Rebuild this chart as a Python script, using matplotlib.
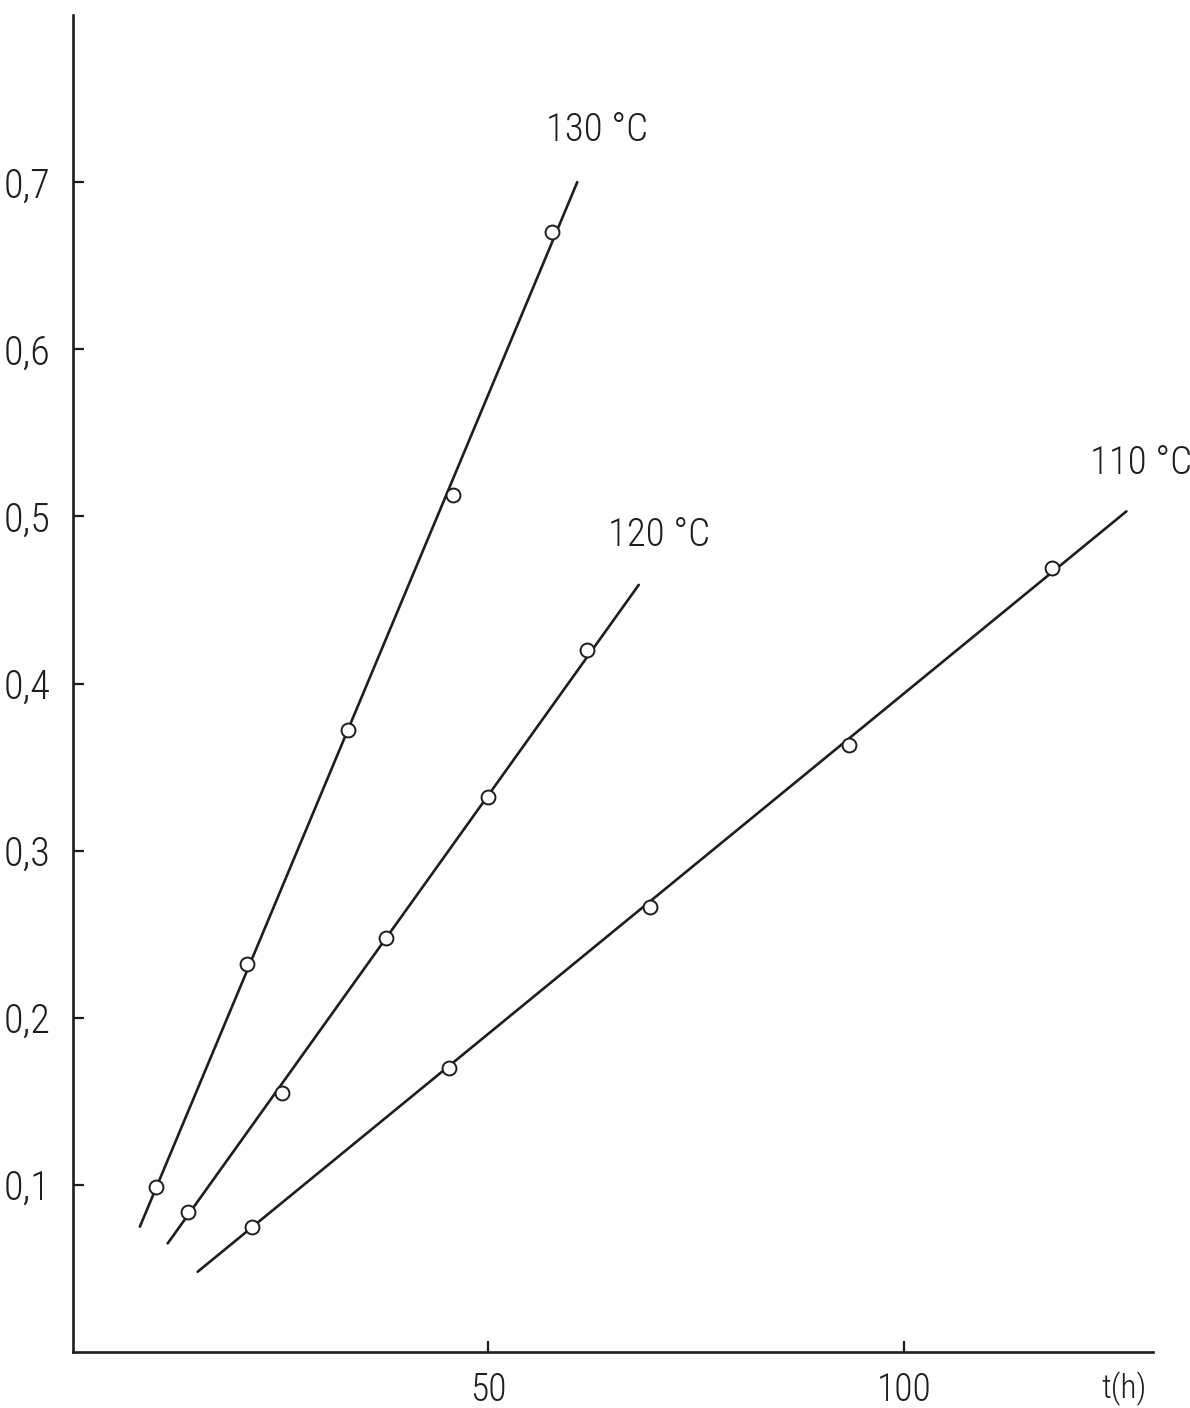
import matplotlib
matplotlib.use("Agg")
import matplotlib.pyplot as plt
from matplotlib import font_manager
import numpy as np

# ---- data ----
t_130 = [10.0, 20.9, 33.1, 45.7, 57.6]
y_130 = [0.099, 0.232, 0.372, 0.513, 0.670]
t_120 = [13.8, 25.2, 37.7, 49.9, 61.9]
y_120 = [0.084, 0.155, 0.248, 0.332, 0.420]
t_110 = [21.5, 45.2, 69.4, 93.4, 117.8]
y_110 = [0.075, 0.170, 0.266, 0.363, 0.469]

# fitted straight lines (start, end)
line_130_t = [8.05, 60.7]
line_130_y = [0.075, 0.700]
line_120_t = [11.4, 68.1]
line_120_y = [0.065, 0.459]
line_110_t = [15.0, 126.8]
line_110_y = [0.048, 0.503]

labels = ["130 °C", "120 °C", "110 °C"]
xticks = [50, 100]
xticklabels = ["50", "100"]
yticks = [0.1, 0.2, 0.3, 0.4, 0.5, 0.6, 0.7]
yticklabels = ["0,1", "0,2", "0,3", "0,4", "0,5", "0,6", "0,7"]

names = {f.name for f in font_manager.fontManager.ttflist}
fams = [n for n in ['Roboto Condensed', 'Open Sans Condensed', 'DejaVu Sans Condensed',
                    'Lato', 'Roboto', 'DejaVu Sans'] if n in names]
plt.rcParams['font.family'] = fams
plt.rcParams['font.weight'] = 'light'
ink = "#1e1e1e"

fig = plt.figure(figsize=(11.9, 14.08), dpi=100)
ax = fig.add_axes([73/1190, 56/1408, (1153-73)/1190, (1352-15)/1408])
ax.set_xlim(0, 130)
ax.set_ylim(0, 0.80)

for lt, ly, pt, py in [(line_130_t, line_130_y, t_130, y_130),
                       (line_120_t, line_120_y, t_120, y_120),
                       (line_110_t, line_110_y, t_110, y_110)]:
    ax.plot(lt, ly, color=ink, lw=1.9, solid_capstyle='round')
    ax.plot(pt, py, linestyle='none', marker='o', ms=10, mfc='white',
            mec=ink, mew=1.4)

fs = 28
ax.text(63.1, 0.731, labels[0], fontsize=fs, color=ink, ha='center', va='center')
ax.text(70.6, 0.489, labels[1], fontsize=fs, color=ink, ha='center', va='center')
ax.text(128.6, 0.532, labels[2], fontsize=fs, color=ink, ha='center', va='center')
ax.text(126.5, -0.022, "t(h)", fontsize=24, color=ink, ha='center', va='center',
        clip_on=False)

ax.spines['top'].set_visible(False)
ax.spines['right'].set_visible(False)
for s in ['left', 'bottom']:
    ax.spines[s].set_linewidth(1.9)
    ax.spines[s].set_color(ink)

ax.set_xticks(xticks)
ax.set_xticklabels(xticklabels)
ax.set_yticks(yticks)
ax.set_yticklabels(yticklabels)
ax.tick_params(axis='both', direction='in', length=8, width=1.6, colors=ink)
ax.tick_params(axis='y', pad=16, labelsize=29)
ax.tick_params(axis='x', pad=14, labelsize=27)

fig.savefig("out.png", dpi=100, facecolor='white')
